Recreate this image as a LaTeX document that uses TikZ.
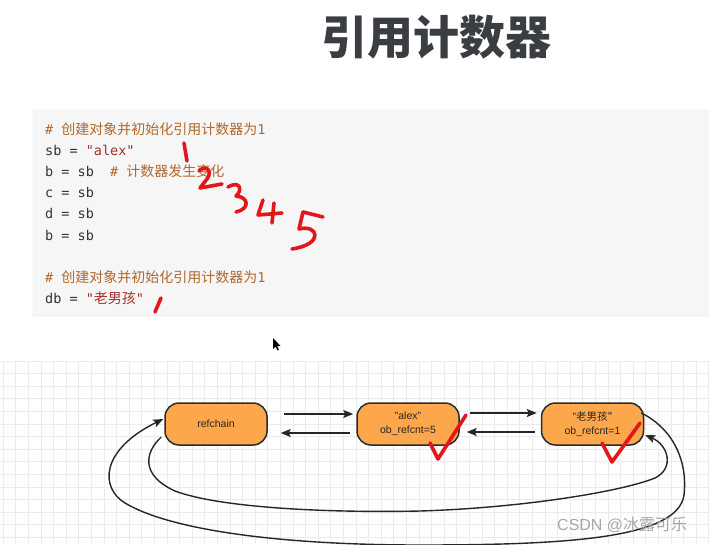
\documentclass[tikz,border=0pt]{standalone}
\usepackage{fontspec}
\setmainfont{Liberation Sans}
\setmonofont{DejaVu Sans Mono}
\newfontfamily\cjk{Noto Sans CJK SC}
\usetikzlibrary{arrows.meta,calc}
\definecolor{titlec}{HTML}{3A3D42}
\definecolor{codebg}{HTML}{F6F6F6}
\definecolor{codeborder}{HTML}{E4E4E4}
\definecolor{cmt}{HTML}{B0682C}
\definecolor{strc}{HTML}{A3302B}
\definecolor{codec}{HTML}{333333}
\definecolor{gridc}{HTML}{EBEBEB}
\definecolor{boxfill}{HTML}{FDA74C}
\definecolor{boxline}{HTML}{2B2B2B}
\definecolor{redpen}{HTML}{E3161B}
\tikzset{
  codeline/.style={anchor=west, inner sep=0pt, font=\ttfamily\fontsize{13.5}{14}\selectfont, text=codec},
  obj/.style={draw=boxline, fill=boxfill, line width=1.5pt, rounded corners=14pt,
    minimum width=102pt, minimum height=42pt, align=center, inner sep=0pt,
    font=\fontsize{10.5}{14}\selectfont, text=black!85},
  arr/.style={draw=black!85, line width=1.4pt, -{Stealth[length=10pt,width=8pt,inset=2pt]}},
  pen/.style={draw=redpen, line width=3.6pt, line cap=round, line join=round},
  gridline/.style={draw=gridc, line width=0.7pt}
}
\newcommand{\cm}[1]{{\cjk\fontsize{14}{14}\selectfont #1}}
\begin{document}
\begin{tikzpicture}[x=1pt,y=-1pt]
\useasboundingbox (0,0) rectangle (709,544);
\fill[white] (0,0) rectangle (709,544);
% grid
\foreach \i in {0,...,56} \draw[gridline] ({3.2+12.6*\i},361) -- ({3.2+12.6*\i},544);
\foreach \j in {0,...,14} \draw[gridline] (0,{361+12.6*\j}) -- (709,{361+12.6*\j});
% title
\node[font=\cjk\bfseries\fontsize{46}{46}\selectfont, text=titlec] (title) at (436,37) {引用计数器};
% code box
\draw[fill=codebg, draw=codeborder, rounded corners=2pt] (33,110) rectangle (714,316);
\node[codeline, text=cmt] (l1) at (45,129) {\#~\cm{创建对象并初始化引用计数器为}1};
\node[codeline] (l2) at (45,150) {sb~=~\textcolor{strc}{"alex"}};
\node[codeline] (l3) at (45,171) {b~=~sb~~\textcolor{cmt}{\#~\cm{计数器发生变化}}};
\node[codeline] (l4) at (45,192) {c~=~sb};
\node[codeline] (l5) at (45,213) {d~=~sb};
\node[codeline] (l6) at (45,235) {b~=~sb};
\node[codeline, text=cmt] (l7) at (45,277) {\#~\cm{创建对象并初始化引用计数器为}1};
\node[codeline] (l8) at (45,298) {db~=~\textcolor{strc}{"\cm{老男孩}"}};
% red handwriting
\draw[pen] (184,143) -- (187,161);
\draw[pen] (199,171) .. controls (206,164) and (213,171) .. (207,179) -- (200,188) -- (222,184);
\draw[pen] (228,187) .. controls (240,180) and (243,190) .. (236,196) .. controls (249,197) and (250,209) .. (236,212);
\draw[pen] (263,200) -- (258,215) -- (282,213);
\draw[pen] (274,203) -- (272,223);
\draw[pen] (303,212) -- (323,217);
\draw[pen] (303,212) -- (299,229) .. controls (318,224) and (325,244) .. (292,249);
\draw[pen] (161,298) -- (155,312);
% cursor
\fill[black] (273,338) -- (273,349) -- (275.5,346.5) -- (277.5,350.5) -- (279,349.8) -- (277,346) -- (280.5,346) -- cycle;
% nodes
\node[obj] (refchain) at (216,424) {refchain};
\node[obj] (alex) at (408,424) {"alex"\\ob\_refcnt=5};
\node[obj] (lnh) at (592.5,424) {"\cjk\fontsize{10.5}{14}\selectfont 老男孩"\\ob\_refcnt=1};
% straight arrows
\draw[arr] ($(refchain.east)+(16,-10)$) -- ($(alex.west)+(-3,-10)$);
\draw[arr] ($(alex.west)+(-6,9)$) -- ($(refchain.east)+(13,9)$);
\draw[arr] ($(alex.east)+(10,-11)$) -- ($(lnh.west)+(-4,-11)$);
\draw[arr] ($(lnh.west)+(-6,8)$) -- ($(alex.east)+(7,8)$);
% curved arrows
\draw[arr] ($(lnh.east)+(-3,-11)$) .. controls (672,428) and (688,460) .. (684,495)
  .. controls (678,538) and (570,545) .. (420,545)
  .. controls (280,545) and (170,530) .. (125,503)
  .. controls (100,488) and (100,450) .. ($(refchain.west)+(-1,-5)$);
\draw[arr] ($(refchain.west)+(-3,13)$) .. controls (145,452) and (140,475) .. (175,491)
  .. controls (220,508) and (330,513) .. (420,511)
  .. controls (520,508) and (620,492) .. (655,478)
  .. controls (675,468) and (668,445) .. ($(lnh.east)+(1,11)$);
% check marks
\draw[pen] (430,443) -- (438,459) -- (466,415);
\draw[pen] (602,443) -- (612,462) -- (640,423);
% watermark
\node[text=gray!70, font=\fontsize{16}{16}\selectfont, anchor=west, inner sep=0pt] (wm) at (557,525) {CSDN @\cjk 冰露可乐};
\end{tikzpicture}
\end{document}
